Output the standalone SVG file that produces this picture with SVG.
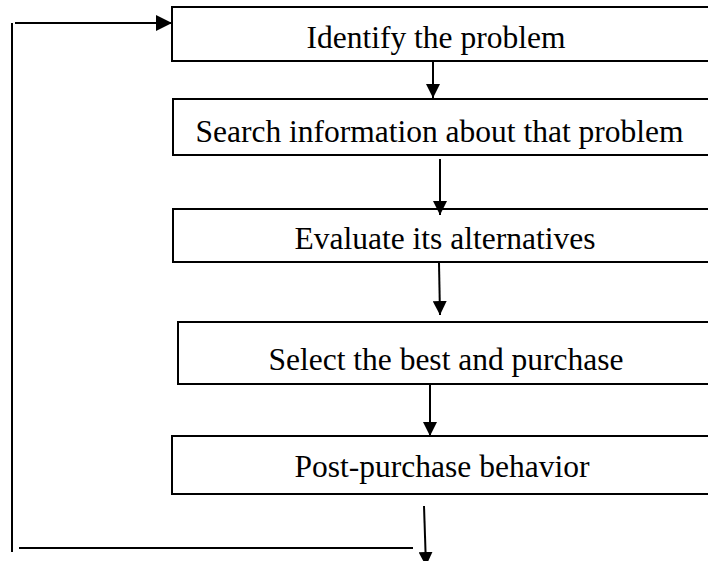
<svg xmlns="http://www.w3.org/2000/svg" width="708" height="561" viewBox="0 0 708 561">
<style>
.box{fill:#fff;stroke:#000;stroke-width:2}
.lbl{font-family:"Liberation Serif","Times New Roman",serif;font-size:31.5px;fill:#000;text-anchor:middle}
.con{fill:none;stroke:#000;stroke-width:2}
</style>
<defs>
<marker id="ah" viewBox="0 0 14 14" refX="14" refY="7" markerWidth="14" markerHeight="14" orient="auto" markerUnits="userSpaceOnUse">
<path d="M0,0 L14,7 L0,14 z" fill="#000"/>
</marker>
<marker id="ahL" viewBox="0 0 16 16" refX="16" refY="8" markerWidth="16" markerHeight="16" orient="auto" markerUnits="userSpaceOnUse">
<path d="M0,0 L16,8 L0,16 z" fill="#000"/>
</marker>
</defs>
<rect width="708" height="561" fill="#fff"/>
<g id="n1"><rect class="box" x="172" y="7" width="560" height="54"/><text class="lbl" x="436" y="48">Identify the problem</text></g>
<g id="n2"><rect class="box" x="173" y="99" width="560" height="56"/><text class="lbl" x="439.5" y="142">Search information about that problem</text></g>
<g id="n3"><rect class="box" x="173" y="209" width="560" height="53"/><text class="lbl" x="445" y="249">Evaluate its alternatives</text></g>
<g id="n4"><rect class="box" x="178" y="322" width="560" height="62"/><text class="lbl" x="446" y="370">Select the best and purchase</text></g>
<g id="n5"><rect class="box" x="172" y="436" width="560" height="58"/><text class="lbl" x="442" y="477">Post-purchase behavior</text></g>
<g id="connectors">
<path class="con" d="M433,61 L433,98" marker-end="url(#ah)"/>
<path class="con" d="M440,159 L440,215" marker-end="url(#ah)"/>
<path class="con" d="M439,263 L440,315" marker-end="url(#ah)"/>
<path class="con" d="M430,384 L430,436" marker-end="url(#ah)"/>
<path class="con" d="M424,506 L426,566" marker-end="url(#ah)"/>
<path class="con" d="M19,548 L413,548"/>
<path class="con" d="M12,552 L12,23"/>
<path class="con" d="M15,23 L172,23" marker-end="url(#ahL)"/>
</g>
</svg>
